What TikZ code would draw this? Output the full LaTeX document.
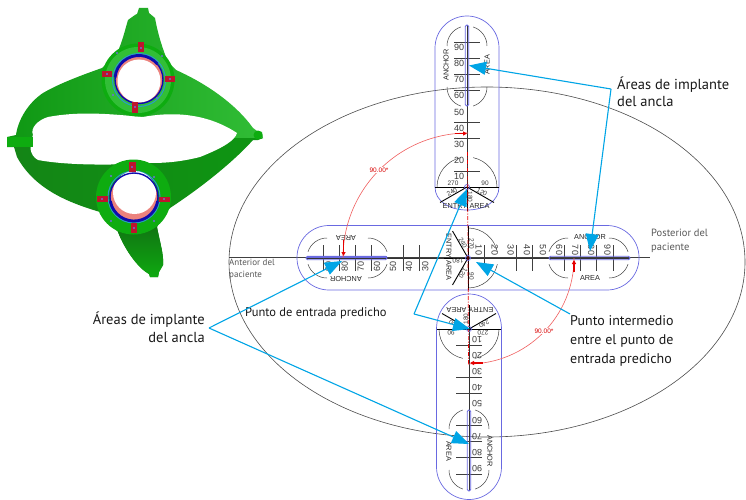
\documentclass[tikz,border=0pt]{standalone}
\usepackage{fontspec}
\setmainfont{PT Sans}
\newfontfamily\techfont{Liberation Sans}
\usetikzlibrary{arrows.meta}
\definecolor{pillc}{RGB}{105,105,225}
\definecolor{callc}{RGB}{0,165,230}
\definecolor{arcc}{RGB}{240,95,95}
\definecolor{gmain}{RGB}{14,172,16}
\definecolor{gdark}{RGB}{20,132,22}
\definecolor{gmid}{RGB}{14,150,18}
\definecolor{glight}{RGB}{50,190,55}
\definecolor{tabc}{RGB}{190,20,45}
\definecolor{pinkc}{RGB}{235,130,125}
\definecolor{ringb}{RGB}{15,10,175}
\definecolor{numc}{RGB}{60,60,60}
\definecolor{letc}{RGB}{110,110,220}
\tikzset{
  pill/.style={draw=pillc,line width=.7pt},
  tickl/.style={draw=black!75,line width=.7pt},
  axisl/.style={draw=black!80,line width=.8pt},
  spoke/.style={draw=black,line width=.9pt},
  numtxt/.style={font=\techfont\fontsize{9}{9}\selectfont,text=numc,inner sep=0pt},
  hubtxt/.style={font=\techfont\fontsize{6.5}{7}\selectfont,text=numc,inner sep=0pt},
  areatxt/.style={font=\techfont\fontsize{7.3}{8}\selectfont,text=black!85,inner sep=0pt},
  call/.style={draw=callc,line width=1.1pt},
  callarrow/.style={call,-{Triangle[length=17pt,width=13pt]}},
  smalllbl/.style={font=\fontsize{9}{12}\selectfont,text=black!65,inner sep=0pt,align=left},
  midlbl/.style={font=\fontsize{10.5}{14}\selectfont,text=black!65,inner sep=0pt,align=left},
  arcl/.style={draw=arcc,line width=.6pt},
  arctip/.style={draw=red!90!black,line width=1.6pt,-{Triangle[length=4pt,width=4pt]}},
  arctxt/.style={font=\techfont\fontsize{6.5}{8}\selectfont,text=red!85!black,fill=white,inner sep=.5pt},
}
\newcommand{\armdraw}[5]{%
\begin{scope}[shift={(#1,#2)},rotate=#3]
  \draw[axisl] (0,0) -- (0,-162);
  \foreach \n in {#4} \draw[tickl] (-13,-1.61*\n) -- (13,-1.61*\n);
  \foreach \n in {#5} \node[numtxt,rotate=#3] (n\n) at (-8,-1.61*\n+5.5) {\n};
  \draw[pillc,line width=.8pt,rounded corners=1.6pt] (-1.8,-162) rectangle (1.8,-81);
  \foreach \cy/\sa/\ea in {-141/0/72,-141/108/180,-100/180/252,-100/288/360}
    \draw[black!75,line width=.5pt] (0,\cy) ++(\sa:20pt) arc[start angle=\sa,end angle=\ea,radius=20pt];
  \node[areatxt,rotate=#3+90] (an) at (-21,-122) {ANCHOR};
  \node[areatxt,rotate=#3+90] (ar) at (20,-122) {AREA};
\end{scope}}
\newcommand{\entrydraw}[3]{%
\begin{scope}[shift={(#1,#2)},rotate=#3]
  \foreach \sa/\ea in {0/78,102/180}
    \draw[black!75,line width=.5pt] (\sa:30pt) arc[start angle=\sa,end angle=\ea,radius=30pt];
  \draw[spoke] (-32,0) -- (32,0);
  \draw[spoke] (0,0) -- (-27,15.5);
  \draw[spoke] (0,0) -- (27,15.5);
  \draw[spoke] (0,0) -- (0,24);
  \node[hubtxt,rotate=#3] (s1) at (-14,-3.5) {270};
  \node[hubtxt,rotate=#3] (s2) at (18,-3.5) {90};
  \node[hubtxt,rotate=#3+30] (s3) at (-15,5) {240};
  \node[hubtxt,rotate=#3-30] (s4) at (15,5) {120};
  \node[hubtxt,rotate=#3-90] (s5) at (3,10) {180};
  \node[areatxt,rotate=#3] (e1) at (-12,19) {ENTRY};
  \node[areatxt,rotate=#3] (e2) at (12.5,19) {AREA};
\end{scope}
\draw[pillc,line width=.7pt] (#1,#2) circle[radius=2.5pt];}
\newcommand{\devicepath}{(137,14) -- (139,8) -- (148,8) -- (149,13) -- (155,18)
  .. controls (158,35) and (163,50) .. (168,62) -- (176,70)
  .. controls (205,83) and (235,103) .. (253,128)
  -- (257,131) -- (262,132) -- (263,138) -- (258,140) -- (253,140)
  .. controls (235,160) and (205,185) .. (170,208)
  .. controls (165,213) and (159,222) .. (157,227)
  .. controls (160,243) and (164,255) .. (163,265)
  -- (159,272) -- (158,277) -- (150,277) -- (149,274)
  .. controls (138,268) and (125,250) .. (118,232)
  -- (100,212)
  .. controls (70,203) and (35,190) .. (17,157)
  -- (14,147) -- (7,147) -- (7,137) -- (16,135)
  .. controls (18,120) and (28,103) .. (43,93)
  .. controls (60,83) and (85,74) .. (102,68)
  -- (117,53)
  .. controls (122,43) and (125,30) .. (128,20)
  -- (135,15) -- cycle}
\begin{document}
\begin{tikzpicture}[x=1pt,y=-1pt]
\useasboundingbox (0,0) rectangle (746,500);
\fill[white] (0,0) rectangle (746,500);
%% device
\begin{scope}
  \clip \devicepath;
  \shade[left color=gmid,middle color=gmain,right color=glight] (0,0) rectangle (270,138);
  \shade[left color=gdark,middle color=gmain,right color=gmid] (0,138) rectangle (270,280);
  \shade[top color=gdark!85!black,bottom color=gmain] (118,222) rectangle (165,280);
\end{scope}
\fill[white] (33,135) .. controls (30,128) and (38,120) .. (48,117)
  .. controls (80,111) and (110,114) .. (143,117)
  .. controls (170,112) and (205,112) .. (237,133)
  .. controls (235,140) and (225,147) .. (200,157)
  .. controls (180,162) and (165,163) .. (150,163)
  .. controls (120,165) and (70,166) .. (38,160)
  .. controls (29,155) and (29,145) .. (33,135) -- cycle;
\fill[gmain] (7,137) rectangle (33,147);
\fill[gmain] (258,135) circle[radius=4.5pt];
% upper ring
\fill[gmain] (138,80) circle[radius=36.5pt];
\fill[glight] (138,80) circle[radius=33pt];
\draw[cyan!80!black,line width=1pt] (139,80) circle[radius=26.5pt];
\fill[pinkc] (139,79) circle[radius=24pt];
\fill[white] (139,81) circle[radius=21.5pt];
\draw[ringb,line width=1.4pt] (139,79.5) circle[radius=24pt];
\draw[ringb,line width=2.8pt] (139,79.5) ++(40:24pt) arc[start angle=40,end angle=175,radius=24pt];
\foreach \xa/\ya/\xb/\yb in {138/42/144/52,102/71/112/77,165/76/175/82,132/102/138/113}
  \fill[tabc] (\xa,\ya) rectangle (\xb,\yb);
\foreach \px/\py in {117/53,162/56,113/95,157/98,141/48,107/74,170/79,135/107}
  \fill[letc] (\px,\py) circle[radius=1.2pt];
% lower ring
\fill[gmain] (133.5,197) circle[radius=37.5pt];
\draw[cyan!80!black,line width=1pt] (134,197) circle[radius=26pt];
\fill[pinkc] (134,197) circle[radius=24pt];
\fill[white] (134.5,192.5) circle[radius=21.5pt];
\draw[ringb,line width=1.4pt] (134,197) circle[radius=24pt];
\draw[ringb,line width=2.8pt] (134,197) ++(190:24pt) arc[start angle=190,end angle=350,radius=24pt];
\foreach \xa/\ya/\xb/\yb in {129/162/136/172,97/196/108/202,159/197/170/202,131/223/137/233}
  \fill[tabc] (\xa,\ya) rectangle (\xb,\yb);
\foreach \px/\py in {111/176,154/177,111/221,154/221,132/167,102/199,164/199,134/228}
  \fill[letc] (\px,\py) circle[radius=1.2pt];
%% large ellipse and axis
\draw[black!70,line width=.6pt] (487,262) ellipse[x radius=258pt,y radius=175pt];
\draw[black!75,line width=.6pt] (229,257.5) -- (650,257.5);
\draw[black,line width=.9pt] (317,258) -- (425,258);
\draw[black!85,line width=1pt] (557,258.5) -- (620,258.5);
%% pills
\begin{scope}[shift={(467,187)}]
  \draw[pill] (0,23) .. controls (-18,23) and (-32,14) .. (-32,0) -- (-32,-139)
     arc[start angle=180,end angle=0,radius=32pt] -- (32,0) .. controls (32,14) and (18,23) .. (0,23) -- cycle;
\end{scope}
\begin{scope}[shift={(469,329)}]
  \draw[pill] (-32.5,0) -- (-32.5,138)
     arc[start angle=180,end angle=360,radius=32.5pt] -- (32.5,0)
     .. controls (32.5,-20) and (18,-35) .. (0,-35) .. controls (-18,-35) and (-32.5,-20) .. (-32.5,0) -- cycle;
\end{scope}
\draw[pill,rounded corners=31.9pt] (297,225.5) rectangle (639,290);
%% arms
\armdraw{467}{187}{0}{10,30,40,60,70,80,90}{10,20,30,40,50,60,70,80,90}
\armdraw{468}{258}{90}{30,40,60,70,80,90}{30,40,50,60,70,80,90}
\armdraw{468}{258}{-90}{10,30,40,60,70,80,90}{10,20,30,40,50,60,70,80,90}
\armdraw{469}{329}{180}{10,30,40,60,70,80,90}{10,20,30,40,50,60,70,80,90}
\entrydraw{467}{187}{0}
\entrydraw{469}{329}{180}
\entrydraw{468}{258}{-90}
\draw[pillc,line width=1.4pt] (307,257) -- (387,257);
%% red centre line
\draw[red!90!black,line width=.7pt,dash pattern=on 4pt off 1.5pt on 1pt off 1.5pt] (467.5,152) -- (468.5,364);
%% red arcs
\draw[arcl] (468,258) ++(90:125pt) arc[start angle=90,end angle=180,radius=125pt];
\draw[arcl] (468,258) ++(0:106pt) arc[start angle=0,end angle=-90,radius=106pt];
\coordinate (ra1) at (455,133.5);
\coordinate (rb1) at (467,133.5);
\coordinate (ra2) at (343.5,240);
\coordinate (rb2) at (343.5,256);
\coordinate (ra3) at (483,363);
\coordinate (rb3) at (470,363);
\coordinate (ra4) at (574,272);
\coordinate (rb4) at (574,260);
\draw[arctip] (ra1) -- (rb1);
\draw[arctip] (ra2) -- (rb2);
\draw[arctip] (ra3) -- (rb3);
\draw[arctip] (ra4) -- (rb4);
\node[arctxt] (ang1) at (379,170) {90.00*};
\node[arctxt] (ang2) at (544,331) {90.00*};
%% labels
\node[font=\fontsize{14.5}{16.5}\selectfont,text=black!90,inner sep=0pt,anchor=north west,align=left] (tr) at (617,77) {Áreas de implante\\del ancla};
\node[font=\fontsize{14.5}{18}\selectfont,text=black!90,inner sep=0pt,anchor=north east,align=right] (tl) at (205,312) {Áreas de implante\\del ancla};
\node[font=\fontsize{12.5}{15}\selectfont,text=black!90,inner sep=0pt,anchor=west] (ent) at (245,313.5) {Punto de entrada predicho};
\node[font=\fontsize{14}{19}\selectfont,text=black!90,inner sep=0pt,anchor=north west,align=left] (mid) at (570,315.5) {Punto intermedio\\entre el punto de\\entrada predicho};
\node[midlbl,anchor=north west] (post) at (651,229) {Posterior del\\paciente};
\node[smalllbl,anchor=north west] (ant) at (229,259) {Anterior del\\paciente};
%% callouts
\coordinate (jr) at (611,89);
\coordinate (jl) at (209,328);
\coordinate (je) at (414,314);
\coordinate (ms) at (570,314);
\coordinate (ti1) at (469,65.5);
\coordinate (ti2) at (590,251);
\coordinate (ti3) at (342,261);
\coordinate (ti4) at (469,444);
\coordinate (ti5) at (467,189);
\coordinate (ti6) at (470,329);
\coordinate (ti7) at (476,262);
\draw[callarrow] (jr) -- (ti1);
\draw[callarrow] (jr) -- (ti2);
\draw[callarrow] (jl) -- (ti3);
\draw[callarrow] (jl) -- (ti4);
\draw[callarrow] (je) -- (ti5);
\draw[callarrow] (je) -- (ti6);
\draw[callarrow] (ms) -- (ti7);
\end{tikzpicture}
\end{document}
